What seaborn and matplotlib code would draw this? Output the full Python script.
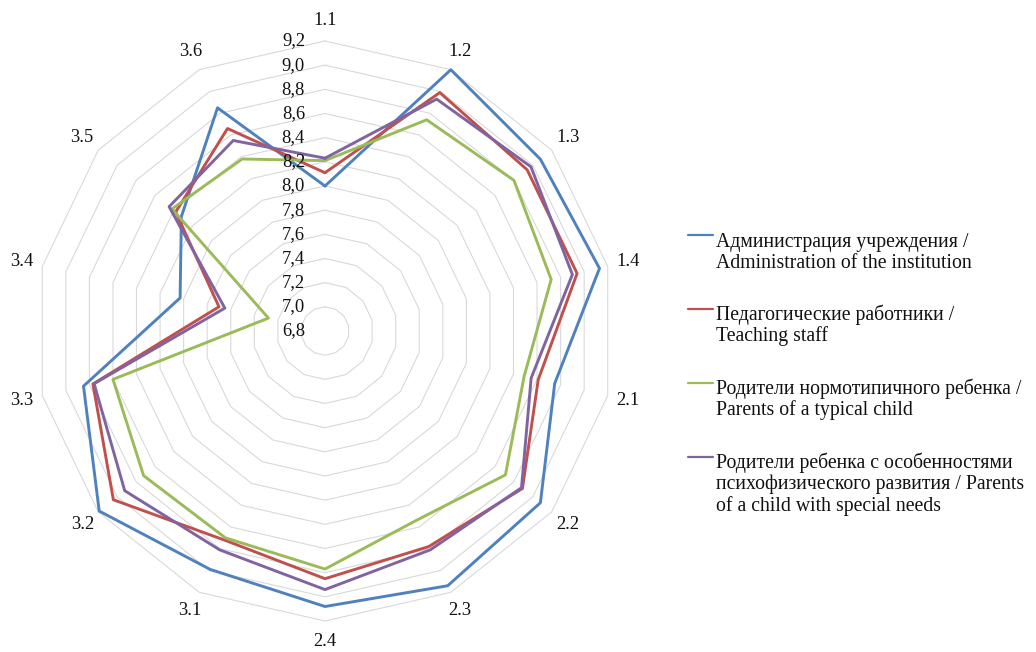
import numpy as np
import pandas as pd
import matplotlib
matplotlib.use('Agg')
import matplotlib.pyplot as plt
import matplotlib.transforms as mtransforms
from matplotlib.lines import Line2D
import seaborn as sns

# Data
categories = ['1.1', '1.2', '1.3', '1.4', '2.1', '2.2', '2.3',
              '2.4', '3.1', '3.2', '3.3', '3.4', '3.5', '3.6']
admin = [8.00, 9.20, 9.08, 9.13, 8.75, 9.08, 9.14, 9.08, 8.99, 9.19, 8.85, 8.03, 8.32, 8.85]
teach = [8.11, 8.99, 8.94, 8.94, 8.61, 8.89, 8.78, 8.85, 8.72, 9.04, 8.77, 7.70, 8.38, 8.66]
typical = [8.21, 8.74, 8.80, 8.72, 8.49, 8.71, 8.54, 8.77, 8.70, 8.72, 8.60, 7.28, 8.42, 8.38]
special = [8.23, 8.93, 8.98, 8.90, 8.55, 8.88, 8.81, 8.94, 8.81, 8.92, 8.76, 7.65, 8.45, 8.55]

series_names = ['Администрация учреждения /\nAdministration of the institution',
                'Педагогические работники /\nTeaching staff',
                'Родители нормотипичного ребенка /\nParents of a typical child',
                'Родители ребенка с особенностями\nпсихофизического развития / Parents\nof a child with special needs']
series_values = [admin, teach, typical, special]
colors = ['#4F81BD', '#C0504D', '#9BBB59', '#8064A2']

r_ticks = [6.8, 7.0, 7.2, 7.4, 7.6, 7.8, 8.0, 8.2, 8.4, 8.6, 8.8, 9.0, 9.2]

sns.set_style('white')
plt.rcParams['font.family'] = ['Liberation Serif', 'DejaVu Serif']
FS = 13.3
FS_LEG = 14.2
TXT = '#111111'

n = len(categories)
angles = np.linspace(0, 2 * np.pi, n, endpoint=False)
angles_closed = np.append(angles, angles[0])

rows = []
for name, vals in zip(series_names, series_values):
    for a, v in zip(angles_closed, list(vals) + [vals[0]]):
        rows.append({'angle': a, 'value': v, 'series': name})
df = pd.DataFrame(rows)

fig = plt.figure(figsize=(10.36, 6.52), dpi=100)
W, H = 1036, 652
cx, cy, R = 325, 331, 290
ax = fig.add_axes([(cx - R) / W, (H - cy - R) / H, 2 * R / W, 2 * R / H], projection='polar')
ax.set_theta_zero_location('N')
ax.set_theta_direction(-1)
ax.set_ylim(6.8, 9.2)
ax.grid(False)
ax.spines['polar'].set_visible(False)
ax.set_xticks([])
ax.set_yticks([])
ax.patch.set_alpha(0)

# polygon gridlines
for rv in r_ticks[1:]:
    ax.plot(angles_closed, [rv] * len(angles_closed), color='#D9D9D9', lw=0.8, zorder=1, clip_on=False)

sns.lineplot(data=df, x='angle', y='value', hue='series', palette=dict(zip(series_names, colors)),
             sort=False, estimator=None, legend=False, lw=2.1, ax=ax, clip_on=False, zorder=3)
ax.set_xlabel('')
ax.set_ylabel('')

# radial tick labels
off = mtransforms.offset_copy(ax.transData, fig=fig, x=-20, y=0, units='dots')
for rv in r_ticks:
    ax.text(0, rv, f'{rv:.1f}'.replace('.', ','), transform=off, ha='right', va='center',
            fontsize=FS, color=TXT)

# category labels
for a, c in zip(angles, categories):
    ax.text(a, 9.37, c, ha='center', va='center', fontsize=FS, color=TXT, clip_on=False)

# legend drawn beside the chart
starts = [246.5, 320, 394, 468]
step = 21.5
for name, col, y0 in zip(series_names, colors, starts):
    yh = y0 - 11.5
    fig.add_artist(Line2D([688 / W, 713 / W], [1 - yh / H] * 2, transform=fig.transFigure,
                          color=col, lw=1.6))
    for k, line in enumerate(name.split('\n')):
        fig.text(716 / W, 1 - (y0 + k * step) / H, line, ha='left', va='baseline',
                 fontsize=FS_LEG, color=TXT)

fig.savefig('out.png', dpi=100)
